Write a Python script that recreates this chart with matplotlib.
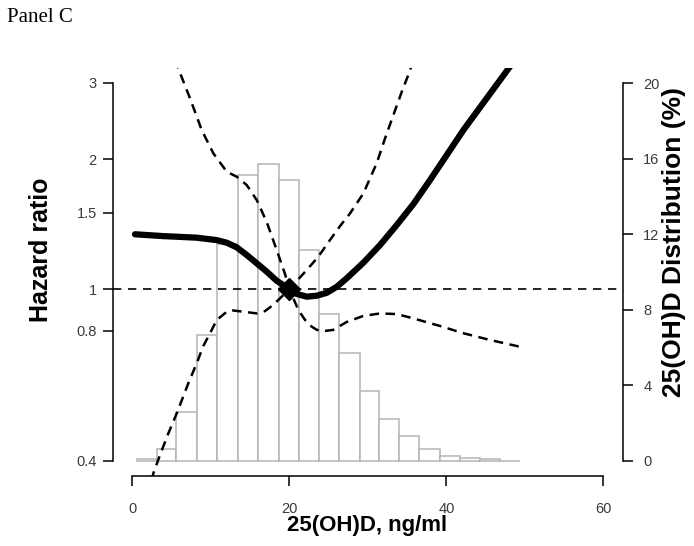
import numpy as np
import matplotlib.pyplot as plt

plt.rcParams['font.family'] = ['Liberation Sans', 'DejaVu Sans']

# distribution of 25(OH)D, % per bin
bin_edges = [0.56, 3.11, 5.57, 8.20, 10.83, 13.50, 16.05, 18.68, 21.24, 23.78,
             26.37, 29.00, 31.46, 34.01, 36.56, 39.20, 41.75, 44.29, 46.84, 49.39]
bin_pct = [0.10, 0.62, 2.58, 6.68, 11.46, 15.13, 15.70, 14.87, 11.16, 7.78,
           5.71, 3.68, 2.23, 1.34, 0.64, 0.25, 0.14, 0.08, 0.0]

# spline estimate of the hazard ratio
hr_x = [0.34, 3.95, 8.2, 10.75, 12.03, 13.3, 14.57, 15.85, 17.12, 18.39,
        20.0, 20.94, 22.22, 23.49, 24.76, 26.04, 27.31, 29.43, 31.55, 33.68,
        35.8, 37.92, 40.05, 42.17, 48.5]
hr_y = [1.339, 1.326, 1.315, 1.298, 1.28, 1.249, 1.199, 1.147, 1.097, 1.045,
        1.0, 0.974, 0.960, 0.965, 0.98, 1.012, 1.059, 1.151, 1.264, 1.407,
        1.573, 1.788, 2.043, 2.334, 3.35]

# 95% CI bounds (they cross at the reference point)
ci1_x = [5.4, 5.86, 7.35, 8.84, 10.32, 12.03, 13.3, 14.57, 15.85, 17.12,
         18.39, 19.45, 20.0, 21.15, 22.0, 22.85, 23.53, 24.33, 25.57, 27.31,
         29.39, 31.55, 33.68, 35.8, 39.2, 42.17, 45.57, 49.39]
ci1_y = [3.40, 3.24, 2.763, 2.334, 2.061, 1.869, 1.820, 1.741, 1.607, 1.429,
         1.231, 1.083, 1.0, 0.894, 0.848, 0.818, 0.804, 0.799, 0.804, 0.839,
         0.866, 0.878, 0.875, 0.855, 0.821, 0.79, 0.762, 0.735]
ci2_x = [2.5, 2.68, 3.53, 4.59, 5.66, 7.13, 8.2, 9.04, 9.9, 10.75, 12.03,
         12.83, 14.14, 15.85, 16.9, 17.92, 18.82, 20.0, 22.22, 23.66, 25.18,
         26.46, 27.73, 29.43, 31.13, 32.19, 33.25, 34.32, 35.38, 35.76]
ci2_y = [0.36, 0.3745, 0.413, 0.4634, 0.5155, 0.605, 0.673, 0.738, 0.79,
         0.848, 0.886, 0.892, 0.886, 0.878, 0.889, 0.918, 0.952, 1.0, 1.107,
         1.186, 1.299, 1.399, 1.497, 1.665, 1.957, 2.233, 2.528, 2.863, 3.21,
         3.38]

ref_x = 20.0
ref_hr = 1.0

hr_ticks = [0.4, 0.8, 1, 1.5, 2, 3]
hr_ticklabels = ['0.4', '0.8', '1', '1.5', '2', '3']
pct_ticks = [0, 4, 8, 12, 16, 20]
x_ticks = [0, 20, 40, 60]

tick_color = '#3a3a3a'

fig = plt.figure(figsize=(6.94, 5.46), dpi=100)
ax = fig.add_axes([0.1624, 0.1282, 0.7353, 0.7473])
ax2 = ax.twinx()
ax.set_zorder(2)
ax2.set_zorder(1)
ax.patch.set_visible(False)

# histogram on the right axis
edges = np.array(bin_edges)
ax2.bar(edges[:-1], bin_pct, width=np.diff(edges), align='edge',
        facecolor='white', edgecolor='#b4b4b4', linewidth=1.1)
ax2.set_ylim(-0.8, 20.8)
ax2.set_yticks(pct_ticks)
ax2.set_yticklabels([str(t) for t in pct_ticks])

# hazard ratio curves
ax.set_yscale('log')
ax.axhline(1, color='black', lw=1.2, ls=(0, (5, 4)))
ax.plot(ci1_x, ci1_y, color='black', lw=1.8, ls=(0, (3.8, 2.6)))
ax.plot(ci2_x, ci2_y, color='black', lw=1.8, ls=(0, (3.8, 2.6)))
ax.plot(hr_x, hr_y, color='black', lw=4.5, solid_capstyle='round',
        solid_joinstyle='round')
ax.plot([ref_x], [ref_hr], marker='D', color='black', ms=11)

ax.set_xlim(-2.5, 62.5)
ax.set_ylim(0.369, 3.25)
ax.set_xticks(x_ticks)
ax.set_xticklabels([str(t) for t in x_ticks])
ax.set_yticks(hr_ticks)
ax.set_yticklabels(hr_ticklabels)
ax.yaxis.set_minor_locator(plt.NullLocator())

for s in ['top', 'right']:
    ax.spines[s].set_visible(False)
for s in ['top', 'left', 'bottom']:
    ax2.spines[s].set_visible(False)
ax.spines['left'].set_bounds(0.4, 3)
ax.spines['bottom'].set_bounds(0, 60)
ax2.spines['right'].set_bounds(0, 20)
for sp in [ax.spines['left'], ax.spines['bottom'], ax2.spines['right']]:
    sp.set_linewidth(1.1)

ax.tick_params(axis='y', direction='out', length=7.5, width=1.1,
               labelsize=10.5, labelcolor=tick_color, pad=4)
ax.tick_params(axis='x', direction='out', length=7.5, width=1.1,
               labelsize=10.5, labelcolor=tick_color, pad=11.5)
ax2.tick_params(axis='y', direction='out', length=7.5, width=1.1,
                labelsize=10.5, labelcolor=tick_color, pad=7)

W, H = 694, 546
fig.text(41 / W, 1 - 250 / H, 'Hazard ratio', rotation=90, ha='center',
         va='center', fontsize=18, fontweight='bold')
fig.text(674 / W, 1 - 242 / H, '25(OH)D Distribution (%)', rotation=90,
         ha='center', va='center', fontsize=19, fontweight='bold')
fig.text(367 / W, 1 - 525 / H, '25(OH)D, ng/ml', ha='center', va='center',
         fontsize=16, fontweight='bold')
fig.text(7 / W, 1 - 22 / H, 'Panel C', ha='left', va='baseline',
         fontsize=15, family=['Liberation Serif', 'DejaVu Serif'])

fig.savefig('out.png', dpi=100)
